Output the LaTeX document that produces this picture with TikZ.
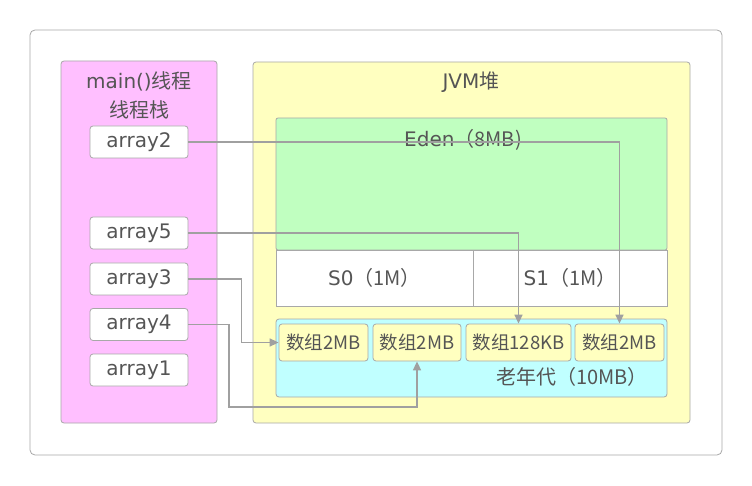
\documentclass[tikz,border=0pt]{standalone}
\usepackage{fontspec}
\setmainfont{DejaVu Sans}
\newfontfamily\cjk{Noto Sans CJK SC}
\usetikzlibrary{arrows.meta}
\definecolor{txt}{HTML}{555555}
\definecolor{bd}{HTML}{A8A8A8}
\definecolor{ln}{HTML}{A0A0A0}
\definecolor{pinkf}{HTML}{FFBFFF}
\definecolor{yelf}{HTML}{FFFFC0}
\definecolor{grnf}{HTML}{C0FFC0}
\definecolor{cyf}{HTML}{C0FFFF}
\tikzset{
  box/.style={draw=bd, line width=0.8pt, rounded corners=3pt, inner sep=0pt, anchor=center},
  lbl/.style={text=txt, font=\fontsize{20}{22}\selectfont, inner sep=0pt},
  arr/.style={box, fill=white, text=txt, font=\fontsize{20}{22}\selectfont, minimum width=98pt, minimum height=32pt},
  obj/.style={box, fill=yelf, text=txt, font=\fontsize{18.5}{20}\selectfont, minimum height=37pt},
  surv/.style={box, fill=white, rounded corners=0pt, minimum height=56pt, text=txt, font=\fontsize{20}{22}\selectfont},
  conn/.style={draw=ln, line width=1.6pt, -{Triangle[length=9pt,width=8pt]}},
}
\begin{document}
\begin{tikzpicture}[x=1pt,y=-1pt]
\useasboundingbox (0,0) rectangle (752,486);
\node[box, fill=white, rounded corners=5pt, minimum width=692pt, minimum height=425pt] (frame) at (376,242.5) {};
% stack
\node[box, fill=pinkf, minimum width=156pt, minimum height=362pt] (stack) at (139,242) {};
\node[lbl] (t1) at (139,81) {main()\cjk{线程}};
\node[lbl] (t2) at (139,110) {\cjk{线程栈}};
\node[arr] (a2) at (139,142) {array2};
\node[arr] (a5) at (139,233) {array5};
\node[arr] (a3) at (139,279) {array3};
\node[arr] (a4) at (139,324.5) {array4};
\node[arr] (a1) at (139,370) {array1};
% heap
\node[box, fill=yelf, minimum width=437pt, minimum height=361pt] (heap) at (471.5,242.5) {};
\node[lbl] (th) at (471,82) {JVM\cjk{堆}};
\node[box, fill=grnf, rounded corners=2pt, minimum width=391pt, minimum height=132pt] (eden) at (471.5,184) {};
\node[lbl] (te) at (463,140) {Eden\cjk{（}8MB)};
\node[surv, minimum width=197pt] (s0) at (374.5,278) {S0\cjk{（}1M\cjk{）}};
\node[surv, minimum width=194pt] (s1) at (570,278) {S1\cjk{（}1M\cjk{）}};
\node[box, fill=cyf, minimum width=391pt, minimum height=78pt] (old) at (471.5,358) {};
\node[obj, minimum width=89pt] (o1) at (323.5,342.5) {\cjk{数组}2MB};
\node[obj, minimum width=88pt] (o2) at (417,342.5) {\cjk{数组}2MB};
\node[obj, minimum width=105pt] (o3) at (518.5,342.5) {\cjk{数组}128KB};
\node[obj, minimum width=89pt] (o4) at (619.5,342.5) {\cjk{数组}2MB};
\node[lbl] (to) at (572,377) {\cjk{老年代（}10MB\cjk{）}};
% connectors
\coordinate (k) at (229,407);
\draw[conn] (a2.east) -| (o4.north);
\draw[conn] (a5.east) -| (o3.north);
\draw[conn] (a3.east) -- ++(53,0) |- (o1.west);
\draw[conn] (a4.east) -| (k) -| (o2.south);
\end{tikzpicture}
\end{document}
